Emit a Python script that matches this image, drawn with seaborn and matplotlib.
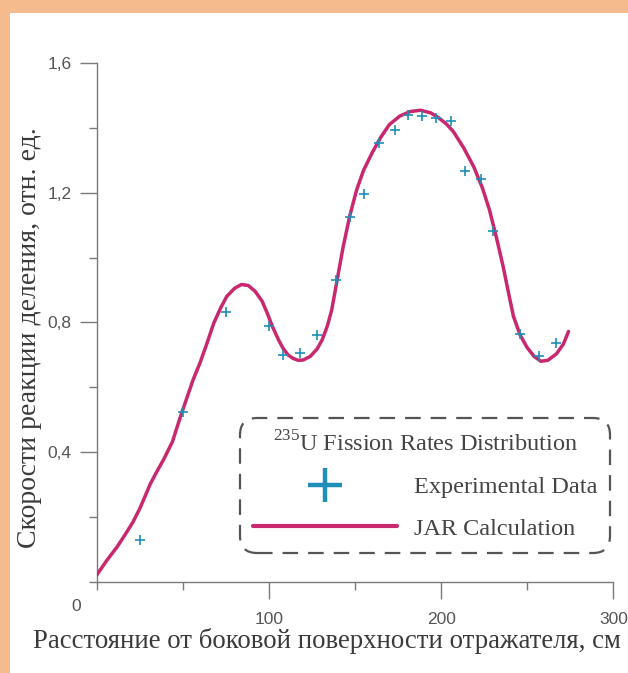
import matplotlib
matplotlib.use("Agg")
import matplotlib.pyplot as plt
import seaborn as sns
import pandas as pd
from matplotlib.lines import Line2D
from matplotlib.patches import Rectangle

# ------------------------------------------
# Data
# ------------------------------------------
exp_x = [25, 50, 75, 100, 108, 118, 128, 139, 147, 155, 164, 173, 181, 189,
         197, 206, 214, 223, 230, 246, 257, 267]
exp_y = [0.128, 0.523, 0.833, 0.790, 0.700, 0.705, 0.760, 0.932, 1.125, 1.195,
         1.355, 1.393, 1.440, 1.437, 1.430, 1.421, 1.269, 1.243, 1.083, 0.765,
         0.697, 0.735]

calc_x = [0, 6, 12, 17, 21, 25, 28, 31, 35, 39, 44, 49, 56, 60, 64, 68, 72,
          75.5, 80, 84, 88, 92, 96, 99, 102, 105.5, 108, 111, 114, 117, 120,
          124, 128, 131, 134, 136.5, 140, 143, 147, 151, 155, 160, 165, 170,
          176, 182, 188, 194, 199, 203, 207, 213, 219, 224, 228, 232, 236,
          239, 242, 246, 250, 254, 258, 262, 267, 271, 274]
calc_y = [0.020, 0.066, 0.108, 0.149, 0.183, 0.225, 0.262, 0.300, 0.340, 0.378,
          0.432, 0.515, 0.623, 0.675, 0.735, 0.798, 0.845, 0.880, 0.905, 0.917,
          0.914, 0.896, 0.866, 0.829, 0.788, 0.747, 0.722, 0.700, 0.689, 0.683,
          0.684, 0.695, 0.718, 0.747, 0.790, 0.839, 0.942, 1.030, 1.130, 1.210,
          1.270, 1.324, 1.372, 1.411, 1.437, 1.451, 1.455, 1.447, 1.430, 1.413,
          1.390, 1.340, 1.280, 1.215, 1.149, 1.065, 0.973, 0.895, 0.819, 0.760,
          0.722, 0.695, 0.680, 0.683, 0.703, 0.733, 0.772]

y_ticks = [0.4, 0.8, 1.2, 1.6]
y_ticklabels = ["0,4", "0,8", "1,2", "1,6"]
x_ticks = [100, 200, 300]
x_ticklabels = ["100", "200", "300"]

exp_df = pd.DataFrame({"x": exp_x, "y": exp_y})
calc_df = pd.DataFrame({"x": calc_x, "y": calc_y})

# ------------------------------------------
# Style
# ------------------------------------------
sns.set_theme(style="ticks")
plt.rcParams["font.family"] = ["Liberation Sans", "DejaVu Sans"]
plt.rcParams["mathtext.fontset"] = "custom"
plt.rcParams["mathtext.rm"] = "Liberation Serif"

line_color = "#c8286e"
point_color = "#1f8fb8"
axis_color = "#7a7a7a"
text_color = "#3a3a3a"
border_color = "#f5bb8c"

fig = plt.figure(figsize=(6.28, 6.73), dpi=100, facecolor="white")
# peach border of the scanned page (top and left)
fig.patches.append(Rectangle((0, 1 - 13 / 673), 1, 13 / 673,
                             transform=fig.transFigure, facecolor=border_color,
                             edgecolor="none", zorder=-10))
fig.patches.append(Rectangle((0, 0), 10 / 628, 1,
                             transform=fig.transFigure, facecolor=border_color,
                             edgecolor="none", zorder=-10))

ax = fig.add_axes([96.7 / 628, 91.5 / 673, 516.6 / 628, 518.2 / 673])
ax.set_facecolor("none")

sns.lineplot(data=calc_df, x="x", y="y", ax=ax, color=line_color,
             linewidth=2.5, sort=False, zorder=3)
sns.scatterplot(data=exp_df, x="x", y="y", ax=ax, color=point_color,
                marker="+", s=45, linewidth=1.2, zorder=4)

ax.set_xlim(0, 300)
ax.set_ylim(0, 1.6)
ax.set_xticks(x_ticks)
ax.set_xticklabels(x_ticklabels)
ax.set_xticks([0, 50, 150, 250], minor=True)
ax.set_yticks(y_ticks)
ax.set_yticklabels(y_ticklabels)
ax.set_yticks([0, 0.2, 0.6, 1.0, 1.4], minor=True)

sns.despine(ax=ax)
for side in ["left", "bottom"]:
    ax.spines[side].set_color(axis_color)
    ax.spines[side].set_linewidth(1.0)

ax.tick_params(which="major", length=12, width=1.0, color=axis_color,
               labelsize=12.5, labelcolor="#555555")
ax.tick_params(which="minor", length=6, width=1.0, color=axis_color)
ax.tick_params(axis="x", which="major", pad=10)
ax.tick_params(axis="y", which="major", pad=6)

# origin label shared by both axes
ax.text(-0.04, -0.048, "0", transform=ax.transAxes, fontsize=12.5,
        color="#555555", ha="center", va="center")

ax.set_xlabel("Расстояние от боковой поверхности отражателя, см",
              family="Liberation Serif", fontsize=19.3, color=text_color)
ax.set_ylabel("Скорости реакции деления, отн. ед.",
              family="Liberation Serif", fontsize=20, color=text_color)
ax.xaxis.set_label_coords(0.446, -0.09)
ax.yaxis.set_label_coords(-0.106, 0.47)

# ------------------------------------------
# Legend
# ------------------------------------------
handles = [
    Line2D([], [], color=point_color, marker="+", linestyle="none",
           markersize=24, markeredgewidth=3.2),
    Line2D([], [], color=line_color, linewidth=3),
]
leg = ax.legend(handles, ["Experimental Data", "JAR Calculation"],
                title=r"$^{235}$U Fission Rates Distribution",
                loc="upper left", bbox_to_anchor=(0.277, 0.3155),
                prop={"family": "Liberation Serif", "size": 17.5},
                title_fontproperties={"family": "Liberation Serif", "size": 17.5},
                handlelength=5.9, handletextpad=0.7, labelspacing=0.8,
                borderpad=0.55, borderaxespad=0, frameon=True, fancybox=True)
for t in leg.get_texts():
    t.set_color("#444444")
leg.get_title().set_color("#444444")
frame = leg.get_frame()
frame.set_facecolor("white")
frame.set_alpha(1)
frame.set_edgecolor("#555555")
frame.set_linewidth(1.6)
frame.set_linestyle((0, (7, 4.5)))
frame.set_boxstyle("round", pad=0, rounding_size=0.7)

fig.savefig("out.png", dpi=100)
